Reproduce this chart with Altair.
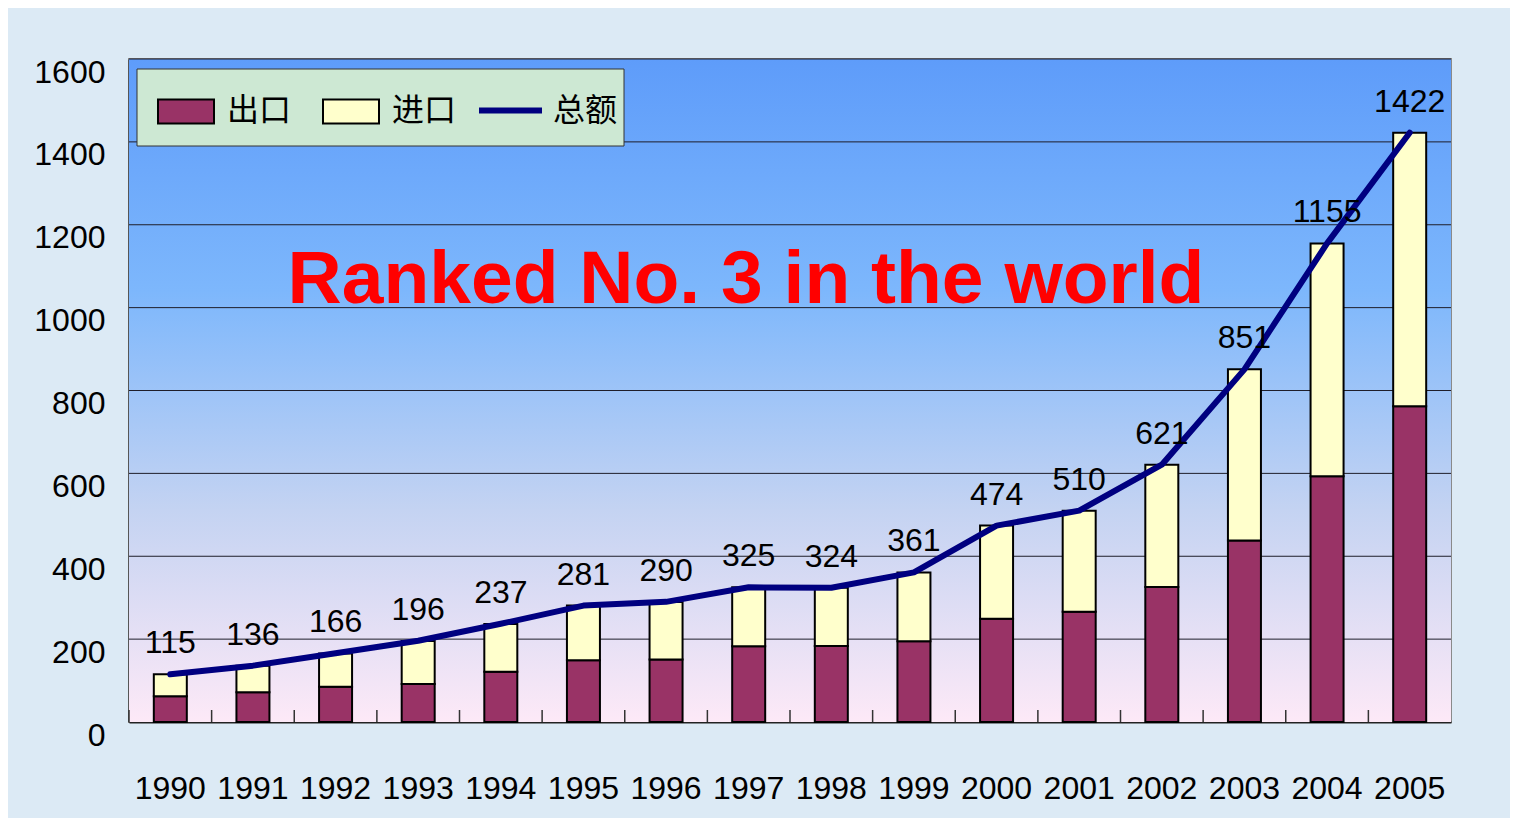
import altair as alt
import pandas as pd

years = [str(y) for y in range(1990, 2006)]
exports = [62.1, 71.8, 84.9, 91.7, 121.0, 148.8, 151.0, 182.8, 183.7, 194.9, 249.2, 266.1, 325.6, 438.2, 593.3, 762.0]
imports = [53.3, 63.8, 80.6, 104.0, 115.6, 132.1, 138.8, 142.4, 140.2, 165.7, 225.1, 243.6, 295.2, 412.8, 561.2, 660.0]
totals = [115, 136, 166, 196, 237, 281, 290, 325, 324, 361, 474, 510, 621, 851, 1155, 1422]
y_ticks = [0, 200, 400, 600, 800, 1000, 1200, 1400, 1600]
bar_types = ["出口", "进口"]
bar_colors = ["#993366", "#ffffcc"]
line_name = "总额"
title_text = "Ranked No. 3 in the world"

W, H = 1322, 663
NUM_FONT = "Liberation Sans, Arial, sans-serif"
NUM_SIZE = 32

bars_df = pd.DataFrame({
    "year": years * 2,
    "type": [bar_types[0]] * len(years) + [bar_types[1]] * len(years),
    "value": exports + imports,
    "order": [0] * len(years) + [1] * len(years),
})
tot_df = pd.DataFrame({"year": years, "total": totals, "name": [line_name] * len(years)})
grid_df = pd.DataFrame({"v": y_ticks[1:]})
one = pd.DataFrame({"t": [title_text]})

xscale = alt.Scale(domain=years, paddingInner=0, paddingOuter=0)
yscale = alt.Scale(domain=[0, 1600], nice=False)

bg = alt.Chart(one).mark_rect(
    color=alt.Gradient(
        gradient="linear",
        stops=[
            alt.GradientStop(color="#5e9cfa", offset=0),
            alt.GradientStop(color="#7db7fc", offset=0.35),
            alt.GradientStop(color="#c4d3f2", offset=0.68),
            alt.GradientStop(color="#fde9f7", offset=1),
        ],
        x1=0, x2=0, y1=0, y2=1,
    )
).encode(x=alt.value(0), x2=alt.value(W), y=alt.value(0), y2=alt.value(H))

grid = alt.Chart(grid_df).mark_rule(color="#1e1e2a", strokeWidth=1).encode(
    y=alt.Y("v:Q", scale=yscale)
)

legbox = alt.Chart(one).mark_rect(fill="#cde8d3", stroke="#333333", strokeWidth=1).encode(
    x=alt.value(8), x2=alt.value(495), y=alt.value(10), y2=alt.value(87)
)

bars = alt.Chart(bars_df).mark_bar(size=33, stroke="black", strokeWidth=2).encode(
    x=alt.X("year:O", scale=xscale, sort=years,
            axis=alt.Axis(title=None, labelAngle=0, labelAlign="center", labelBaseline="top",
                          ticks=False, grid=False,
                          labelFont=NUM_FONT, labelFontSize=NUM_SIZE, labelColor="black",
                          labelPadding=51, labelOverlap=False,
                          domainColor="#222222", domainWidth=2)),
    y=alt.Y("value:Q", stack="zero", scale=yscale,
            axis=alt.Axis(title=None, values=y_ticks, format="d", grid=False, ticks=False,
                          labelFont=NUM_FONT, labelFontSize=NUM_SIZE, labelColor="black",
                          labelPadding=24, labelOffset=13, domainColor="#222222", domainWidth=2)),
    fill=alt.Fill("type:N", scale=alt.Scale(domain=bar_types, range=bar_colors),
                  legend=alt.Legend(title=None, orient="none", legendX=28, legendY=23,
                                    direction="horizontal",
                                    symbolType="M-1,-0.43L1,-0.43L1,0.43L-1,0.43Z",
                                    symbolSize=3136, symbolStrokeColor="black",
                                    symbolStrokeWidth=2, symbolOpacity=1,
                                    labelFont="Noto Sans CJK SC", labelFontSize=32,
                                    labelColor="black", labelOffset=12, columnPadding=27,
                                    padding=0)),
    order=alt.Order("order:Q"),
)

ticks = alt.Chart(tot_df).mark_rule(color="#333333", strokeWidth=1.5).encode(
    x=alt.X("year:O", scale=xscale, bandPosition=0),
    y=alt.value(H), y2=alt.value(H - 12),
)

line = alt.Chart(tot_df).mark_line(strokeWidth=6, strokeCap="round", strokeJoin="round").encode(
    x=alt.X("year:O", scale=xscale),
    y=alt.Y("total:Q", scale=yscale),
    stroke=alt.Stroke("name:N", scale=alt.Scale(domain=[line_name], range=["#000080"]),
                      legend=alt.Legend(title=None, orient="none", legendX=347, legendY=17,
                                        symbolType="stroke", symbolSize=3969,
                                        symbolStrokeWidth=6, labelFont="Noto Sans CJK SC",
                                        labelFontSize=32, labelColor="black", labelOffset=8,
                                        padding=0)),
)

labels = alt.Chart(tot_df).mark_text(
    font=NUM_FONT, fontSize=NUM_SIZE, color="black", baseline="alphabetic", dy=-21
).encode(x=alt.X("year:O", scale=xscale), y=alt.Y("total:Q", scale=yscale), text="total:Q")

title = alt.Chart(one).mark_text(
    font="Liberation Sans, Arial, sans-serif", fontSize=75, fontWeight="bold",
    color="#ff0000", baseline="alphabetic", align="center"
).encode(x=alt.value(617), y=alt.value(244), text="t:N")

chart = alt.layer(bg, grid, legbox, bars, ticks, line, labels, title).resolve_scale(
    fill="independent", stroke="independent"
).properties(
    width=W, height=H,
    autosize=alt.AutoSizeParams(type="none"),
    padding={"left": 121, "top": 51, "right": 59, "bottom": 96},
    background="#dceaf5",
).configure_view(stroke="#8a8a8a", strokeWidth=2)

chart.save("out.html", embed_options={"renderer": "svg", "actions": False})
